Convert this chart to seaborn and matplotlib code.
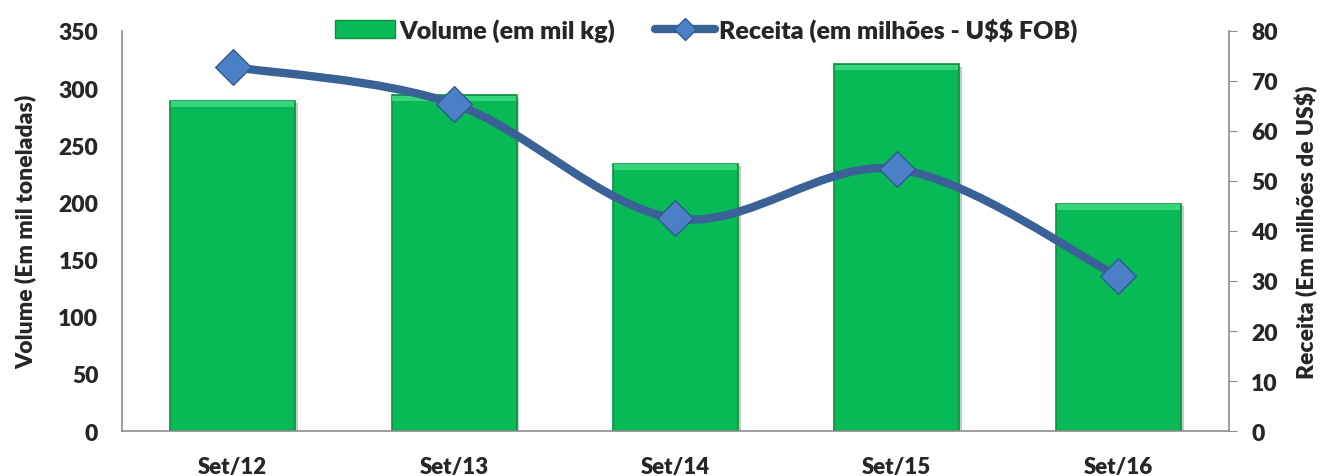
import numpy as np
import pandas as pd
import matplotlib
matplotlib.use("Agg")
import matplotlib.pyplot as plt
import seaborn as sns
from matplotlib.path import Path
from matplotlib.patches import PathPatch, Patch
from matplotlib.lines import Line2D
import matplotlib.patheffects as pe

# data
periodos = ["Set/12", "Set/13", "Set/14", "Set/15", "Set/16"]
volume = [289, 294, 234, 321, 199]          # mil toneladas
receita = [72.8, 65.4, 42.5, 52.4, 30.9]    # milhões de US$

df = pd.DataFrame({"periodo": periodos, "volume": volume, "receita": receita})

sns.set_style("white")
plt.rcParams['font.family'] = ['Lato', 'DejaVu Sans']
plt.rcParams['font.weight'] = 'heavy'
plt.rcParams['text.parse_math'] = False

fig = plt.figure(figsize=(13.2, 4.77), dpi=100)
ax = fig.add_axes([0.0924, 0.0943, 0.8386, 0.8387])

green = "#08BA55"
sns.barplot(data=df, x="periodo", y="volume", color=green, width=0.565,
            saturation=1, edgecolor="#0B8F42", linewidth=1.2, ax=ax, zorder=2)
for bar in list(ax.patches):
    bar.set_path_effects([pe.SimplePatchShadow(offset=(2, -2), alpha=0.25), pe.Normal()])
    # lighter bevel at the top of each bar
    x0, w, h = bar.get_x(), bar.get_width(), bar.get_height()
    ax.bar(x0 + w / 2, 5, width=w * 0.985, bottom=h - 5.5, color="#35D67A",
           linewidth=0, zorder=3, align="center")

ax.set_xlim(-0.5, 4.5)
ax.set_ylim(0, 350)
ax.set_yticks(range(0, 351, 50))
ax.set_xlabel("")
ax.set_ylabel("Volume (Em mil toneladas)", fontsize=16.5, fontweight="heavy", labelpad=16)
ax.tick_params(axis="both", length=0, labelsize=16.5, pad=17)
ax.tick_params(axis="x", labelsize=16, pad=18)
for s in ["top", "right"]:
    ax.spines[s].set_visible(False)
for s in ["left", "bottom"]:
    ax.spines[s].set_color("#8C8C8C")
    ax.spines[s].set_linewidth(1.2)

ax2 = ax.twinx()
ax2.set_ylim(0, 80)
ax2.set_yticks(range(0, 81, 10))
ax2.set_ylabel("Receita (Em milhões de US$)", fontsize=16.5, fontweight="heavy", labelpad=12)
ax2.tick_params(axis="y", direction="out", length=6, color="#8C8C8C", labelsize=16.5, pad=10)
for s in ["top", "left", "bottom"]:
    ax2.spines[s].set_visible(False)
ax2.spines["right"].set_color("#8C8C8C")
ax2.spines["right"].set_linewidth(1.2)

# smoothed line (Excel-style) built with bezier segments through the points
xs = np.arange(len(receita), dtype=float)
ys = np.array(receita, dtype=float)
verts = [(xs[0], ys[0])]
codes = [Path.MOVETO]
n = len(xs)
for i in range(n - 1):
    p0 = (xs[max(i - 1, 0)], ys[max(i - 1, 0)])
    p1 = (xs[i], ys[i])
    p2 = (xs[i + 1], ys[i + 1])
    p3 = (xs[min(i + 2, n - 1)], ys[min(i + 2, n - 1)])
    c1 = (p1[0] + (p2[0] - p0[0]) / 6, p1[1] + (p2[1] - p0[1]) / 6)
    c2 = (p2[0] - (p3[0] - p1[0]) / 6, p2[1] - (p3[1] - p1[1]) / 6)
    verts += [c1, c2, p2]
    codes += [Path.CURVE4] * 3
line_color = "#3A6296"
ax2.add_patch(PathPatch(Path(verts, codes), facecolor="none", edgecolor=line_color,
                        linewidth=6, capstyle="round", zorder=4))
sns.scatterplot(x=xs, y=ys, marker="D", s=330, color="#4B80C6", edgecolor="#2F5A8E",
                linewidth=1, ax=ax2, zorder=5, legend=False)
ax2.set_xlim(-0.5, 4.5)

handles = [
    Patch(facecolor=green, edgecolor="#0B8F42", label="Volume (em mil kg)"),
    Line2D([0], [0], color=line_color, lw=6, solid_capstyle="round", marker="D",
           markersize=11, markerfacecolor="#4B80C6", markeredgecolor="#2F5A8E",
           label="Receita (em milhões - U$$ FOB)"),
]
fig.legend(handles=handles, loc="center", bbox_to_anchor=(0.535, 0.935), ncol=2,
           frameon=False, handlelength=2.4, handletextpad=0.15,
           columnspacing=1.6, prop={"weight": "heavy", "size": 18})

fig.savefig("out.png", dpi=100)
